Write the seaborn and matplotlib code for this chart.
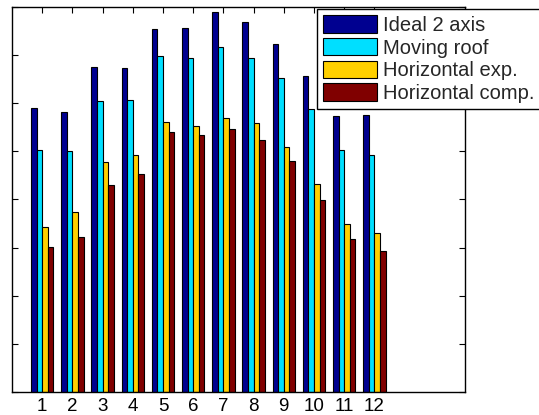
import matplotlib
matplotlib.use("Agg")
import matplotlib.pyplot as plt
import seaborn as sns
import pandas as pd

# Monthly values for each collector configuration
months = [1, 2, 3, 4, 5, 6, 7, 8, 9, 10, 11, 12]
ideal_2_axis = [5.90, 5.82, 6.76, 6.74, 7.54, 7.56, 7.89, 7.69, 7.23, 6.57, 5.73, 5.75]
moving_roof = [5.02, 5.00, 6.04, 6.06, 6.98, 6.93, 7.17, 6.93, 6.52, 5.88, 5.02, 4.93]
horizontal_exp = [3.42, 3.74, 4.77, 4.93, 5.61, 5.52, 5.70, 5.59, 5.10, 4.32, 3.49, 3.31]
horizontal_comp = [3.02, 3.22, 4.30, 4.53, 5.40, 5.33, 5.47, 5.23, 4.79, 3.99, 3.17, 2.93]

series_names = ["Ideal 2 axis", "Moving roof", "Horizontal exp.", "Horizontal comp."]
series_values = [ideal_2_axis, moving_roof, horizontal_exp, horizontal_comp]
colors = ["#000090", "#00DFFF", "#FFD000", "#800000"]

rows = []
for name, vals in zip(series_names, series_values):
    for m, v in zip(months, vals):
        rows.append({"month": m, "value": v, "series": name})
df = pd.DataFrame(rows)

sns.set_style("white")
plt.rcParams["font.family"] = ["Liberation Sans", "DejaVu Sans"]

W, H = 539, 415
fig = plt.figure(figsize=(W / 100, H / 100), dpi=100)
ax = fig.add_axes([12 / W, 1 - 392 / H, (465 - 12) / W, (392 - 7) / H])

sns.barplot(data=df, x="month", y="value", hue="series", hue_order=series_names,
            palette=colors, saturation=1, native_scale=True, width=0.74, gap=0,
            edgecolor="black", linewidth=0.8, errorbar=None, ax=ax)

ax.set_xlim(0, 15)
ax.set_ylim(0, 8)
ax.set_xticks(months)
ax.set_xticklabels([str(m) for m in months], fontsize=13.5)
ax.set_yticks(range(0, 9))
ax.set_yticklabels([])
ax.set_xlabel("")
ax.set_ylabel("")
ax.tick_params(direction="in", length=4, width=0.8, top=True, right=True,
               left=True, bottom=True, pad=4, colors="black")
for sp in ax.spines.values():
    sp.set_visible(True)
    sp.set_color("black")
    sp.set_linewidth(1.0)

handles, labels = ax.get_legend_handles_labels()
ax.legend(handles, labels, loc="upper left",
          bbox_to_anchor=(316.7 / W, 1 - 9.3 / H), bbox_transform=fig.transFigure,
          borderaxespad=0, fontsize=14.5, frameon=True, fancybox=False,
          edgecolor="black", framealpha=1, handlelength=2.7, handleheight=0.95,
          handletextpad=0.3, labelspacing=0.15, borderpad=0.3)
ax.get_legend().get_frame().set_linewidth(1.0)

fig.savefig("out.png", dpi=100)
